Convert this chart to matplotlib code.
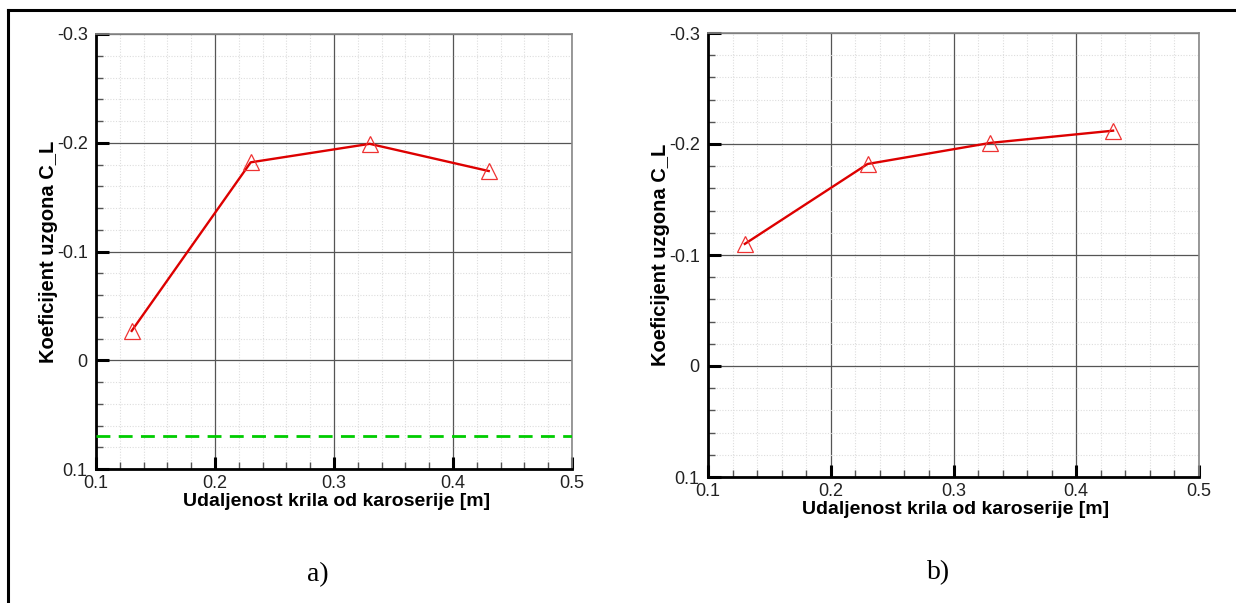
import matplotlib
matplotlib.use("Agg")
import matplotlib.pyplot as plt
from matplotlib.ticker import MultipleLocator, FixedLocator
from matplotlib.lines import Line2D

plt.rcParams['font.family'] = ['Liberation Sans', 'DejaVu Sans']

# data
x_a = [0.13, 0.23, 0.33, 0.43]
cl_a = [-0.027, -0.182, -0.199, -0.174]
ref_a = 0.070

x_b = [0.13, 0.23, 0.33, 0.43]
cl_b = [-0.110, -0.182, -0.201, -0.212]

xticks = [0.1, 0.2, 0.3, 0.4, 0.5]
xticklabels = ["0.1", "0.2", "0.3", "0.4", "0.5"]
yticks = [-0.3, -0.2, -0.1, 0.0, 0.1]
yticklabels = ["-0.3", "-0.2", "-0.1", "0", "0.1"]

xlabel = "Udaljenost krila od karoserije [m]"
ylabel = "Koeficijent uzgona C_L"

W, H = 1236, 603
fig = plt.figure(figsize=(W / 100, H / 100), dpi=100)


def px_axes(left, top, right, bottom):
    return fig.add_axes([left / W, 1 - bottom / H, (right - left) / W, (bottom - top) / H])


def style(ax, xs, ys, ylabel_x, xlabel_y):
    ax.plot(xs, ys, color='#dd0000', lw=1.7, zorder=4)
    ax.plot(xs, ys, ls='none', marker='^', ms=12, mfc='none', mec='#ee3333',
            mew=0.9, zorder=5, clip_on=False)
    ax.set_xlim(0.1, 0.5)
    ax.set_ylim(0.1, -0.3)
    ax.xaxis.set_major_locator(FixedLocator(xticks))
    ax.set_xticklabels(xticklabels)
    ax.yaxis.set_major_locator(FixedLocator(yticks))
    ax.set_yticklabels(yticklabels)
    ax.xaxis.set_minor_locator(MultipleLocator(0.02))
    ax.yaxis.set_minor_locator(MultipleLocator(0.02))
    ax.grid(which='major', color='#555555', lw=0.9, zorder=1)
    ax.grid(which='minor', color='#dddddd', lw=0.8, ls=(0, (1, 1.5)), zorder=0)
    ax.set_axisbelow(True)
    ax.tick_params(which='major', direction='in', length=9, width=2.2, color='black',
                   labelsize=13, labelcolor='#222222')
    ax.tick_params(which='minor', direction='in', length=5, width=1.0, color='#555555')
    ax.tick_params(axis='x', which='major', pad=4)
    ax.tick_params(axis='y', which='major', pad=6)
    for s in ['left', 'bottom']:
        ax.spines[s].set_linewidth(2.0)
        ax.spines[s].set_color('black')
    for s in ['top', 'right']:
        ax.spines[s].set_linewidth(1.2)
        ax.spines[s].set_color('#888888')
    bb = ax.get_position()
    fig.text(ylabel_x / W, (bb.y0 + bb.y1) / 2, ylabel, rotation=90, ha='center',
             va='center', fontsize=14.5, fontweight='bold')
    fig.text((bb.x0 + bb.x1) / 2 + 0.002, 1 - xlabel_y / H, xlabel, ha='center',
             va='center', fontsize=14, fontweight='bold')


ax_a = px_axes(96, 34, 572, 469)
ax_a.axhline(ref_a, color='#00cc00', lw=2.0, ls=(0, (5, 3)), zorder=3)
style(ax_a, x_a, cl_a, 49, 501)

ax_b = px_axes(708, 33, 1199, 477)
style(ax_b, x_b, cl_b, 660, 509)

fig.text(318 / W, 1 - 575 / H, "a)", ha='center', va='center', fontsize=20,
         family=['Liberation Serif', 'DejaVu Serif'])
fig.text(939 / W, 1 - 573 / H, "b)", ha='center', va='center', fontsize=20,
         family=['Liberation Serif', 'DejaVu Serif'])

# outer frame lines
fig.add_artist(Line2D([8 / W, 8 / W], [0, 1 - 10 / H], color='black', lw=2.2,
                      transform=fig.transFigure))
fig.add_artist(Line2D([8 / W, 1], [1 - 10 / H, 1 - 10 / H], color='black', lw=2.2,
                      transform=fig.transFigure))

fig.savefig("out.png", dpi=100)
